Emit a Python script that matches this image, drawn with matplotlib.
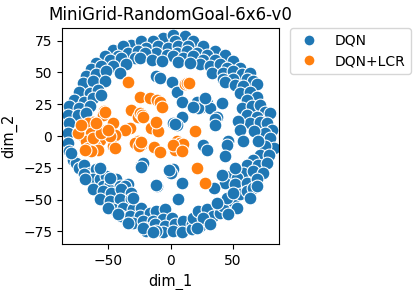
import matplotlib
matplotlib.use("Agg")
import matplotlib.pyplot as plt
from matplotlib.lines import Line2D

title = "MiniGrid-RandomGoal-6x6-v0"
labels = ["DQN", "DQN+LCR"]
colors = ["#1f77b4", "#ff7f0e"]
xticks = [-50, 0, 50]
yticks = [-75, -50, -25, 0, 25, 50, 75]

# DQN: outer ring (top part)
dqn_top = [
    (-5.9, 77.1), (2.1, 79.7), (11.5, 78.4),
    (-31.4, 71.8), (-23.4, 74.4), (-14, 74.4), (3.5, 74.4), (18.2, 74.4),
    (-46.2, 67.9), (-38.1, 70.5), (-19.3, 69.2), (-9.9, 70.5), (-1.9, 69.2), (6.2, 70.5),
    (14.2, 70.5), (26.3, 70.5), (35.6, 66.6),
    (-52.9, 62.7), (-42.1, 62.7), (-34.1, 65.3), (-26, 66.6), (-11.3, 65.3), (-3.2, 64),
    (4.8, 65.3), (12.9, 66.6), (20.9, 65.3), (28.9, 64), (43.7, 64),
    (-59.6, 57.5), (-48.8, 60.1), (-39.5, 61.4), (-28.7, 61.4), (-20.7, 65.3), (2.1, 62.7),
    (10.2, 61.4), (18.2, 62.7), (26.3, 60.1), (35.6, 60.1), (50.4, 58.8),
    (-63.6, 52.3), (-55.6, 54.9), (-46.2, 54.9), (-35.4, 56.2), (-24.7, 61.4), (23.6, 56.2),
    (31.6, 54.9), (39.7, 56.2), (45, 53.6), (55.8, 53.6),
    (-67.6, 47.1), (-59.6, 48.4), (-51.5, 51), (-40.8, 49.7), (33, 49.7), (42.4, 49.7),
    (50.4, 51), (57.1, 48.4), (63.8, 49.7),
    (-70.3, 41.9), (-62.2, 43.2), (-52.9, 43.2), (42.4, 44.5), (50.4, 44.5), (61.1, 44.5),
    (66.5, 43.2), (69.2, 40.6),
    (-15, 60), (-7, 59), (6, 58.5), (16, 57.5),
]
# DQN: outer ring (left part)
dqn_left = [
    (-73, 34.9), (-64.9, 33.6), (-58.2, 36.2), (-77, 28.4), (-69, 27.1), (-62.2, 29.7),
    (-55.5, 32.3), (-81, 23.2), (-73, 21.9), (-64.9, 23.2), (-82.4, 16.6), (-74.3, 16.6),
    (-67.6, 17.9), (-81, 10.1), (-82.4, 2.3), (-82.4, -5.5), (-81, -12), (-78.3, -18.5),
    (-75.6, -21.1), (-73, -25), (-69, -22.4), (-64.9, -28.9), (-59.6, -26.3), (-69, -30.2),
    (-62.2, -34.1), (-56.9, -34.1), (-51.5, -31.5), (-54.2, -39.3), (-48.8, -38),
    (-43.5, -34.1), (-40.8, -39.3), (-34, -38),
    (-56.9, -25), (-48.8, -32.8), (-36.8, -39.4), (-79.7, -13.3), (-68.9, -34.1),
]
# DQN: outer ring (right part)
dqn_right = [
    (43.7, 42.7), (52, 40), (58, 39.5),
    (55.8, 33.6), (63.8, 34.9), (69.2, 31), (61.1, 28.4), (57.1, 21.9), (65.1, 23.2),
    (71.9, 24.5), (75.9, 19.2), (79.9, 17.9), (61.1, 16.6), (69.2, 15.3), (63.8, 10.1),
    (71.9, 11.4), (77.2, 10.1), (81.2, 4.9), (75.9, 2.3), (79.9, -1.6), (82.6, -9.4),
    (75.9, -8.1), (71.9, -14.6), (78.6, -14.6), (66.5, -18.5), (61.1, -22.4), (70.5, -22.4),
    (77.2, -21.1), (58.4, -28.9), (66.5, -27.6), (74.5, -28.9), (47.7, -31.5), (53.1, -32.8),
    (43.7, -36.7), (51.7, -38), (61.1, -36.7), (69.2, -34.1),
    (54, 12), (56, 5), (67, 4), (70, -4), (52, -25), (41, -31), (35, -41),
]
# DQN: outer ring (bottom part)
dqn_bottom = [
    (-62.2, -42), (-54.2, -43.3), (-47.5, -44.6), (-39.4, -42), (-31.4, -44.6),
    (-56.9, -49.8), (-48.8, -51.1), (-40.8, -49.8), (-31.4, -49.8), (-46.1, -57.6),
    (-38.1, -56.3), (-30.1, -57.6), (-23.3, -56.3), (-39.4, -62.8), (-32.7, -62.8),
    (-24.7, -62.8), (-16.7, -60.2), (-11.3, -58.9), (-4.6, -57.6), (-30.1, -68), (-22, -66.7),
    (-14, -66.7), (-5.9, -65.4), (0.8, -64.1), (-20.7, -71.9), (-12.6, -69.3), (-4.6, -70.6),
    (3.5, -69.3), (10.2, -66.7), (16.9, -69.3), (-5.9, -75.8), (2.1, -74.5), (8.8, -75.8),
    (16.9, -73.2), (23.6, -70.6), (18.2, -64.1), (22.2, -58.9), (28.9, -57.6), (34.3, -62.8),
    (26.3, -64.1), (39.7, -60.2), (42.4, -55), (50.4, -51.1), (45, -48.5), (37, -52.4),
    (53.1, -56.3), (46.4, -61.5), (55.8, -45.9), (61.1, -43.3), (66.5, -40.7), (63.8, -48.5),
    (50.4, -44.6), (69.2, -39.4), (31.6, -69.3), (20.9, -71.9), (-11.3, -74.5), (-19.3, -74.5),
    (-30.1, -48.4), (-50.2, -56.3), (-42.2, -61.5), (-34.1, -68), (-22, -71.9), (-14, -75.8),
]
# DQN: points inside the ring
dqn_inner = [
    (-11.3, 47.1), (-8.6, 45.8), (0.8, 42.7), (4.8, 34.8), (8.8, 27),
    (20.9, 27), (24.9, 23.1), (29, 25.8), (31.6, 21.9), (22.2, 21.9), (27.6, 29.7), (18.2, 23.1),
    (41, 25.8), (37, 15.3), (36, 13), (35.6, 8.8), (8.8, 15.3),
    (2.1, 10.2), (4.8, 8.8), (3.5, 9.5),
    (26.2, -6.8), (29, -10.7), (46.4, -4.2), (45, -6.8), (58.4, -4.2), (43.7, -15.9),
    (-23.3, -22.4), (-22, -21), (-24, -24),
    (0.8, -27.7), (2, -26), (0, -29), (-1, -27),
    (8.8, -36.7), (-11, -39.5), (-12, -38.5), (6.2, -49.8),
]

# DQN+LCR
lcr_pts = [
    (-34.4, 42.7), (11.5, 40.6), (13, 42), (15, 41.5),
    (-24.7, 30.9), (-16.7, 29.7), (-11, 28), (-8.6, 27), (-7.2, 23.1),
    (-31.4, 20.5), (-26, 15.3), (-24.7, 18), (-23, 16.5), (-22, 15),
    (-53, 20), (-54.2, 16.6), (-46.2, 10.2), (-32.7, 6.25), (-36.8, 4.9), (-44.8, 1),
    (-15.3, 6.25), (-10, 3.6), (-11.3, 11.4),
    (-26, -4.2), (-23.3, -6.8), (-28.7, -5.5), (-25, -8), (-24, -5),
    (-46.2, -8.1), (-44.8, -9.4), (-13, -9), (-8.6, -12.5),
    (4.8, -4.2), (8.8, -9.4), (3.5, -10.7), (7.5, -5.5), (10, -6), (2, -7), (8.8, -12),
    (19.5, 3.6), (20.9, -25), (27.6, -36.7),
    (-52.9, 19.2), (-62.3, 11.4), (-66.3, 10.2), (-58.2, 6.25), (-71.6, 4.9), (-70.3, -0.3),
    (-63.6, 2.3), (-56.9, -2.9), (-64.9, -5.5), (-60.9, -8.1), (-67.6, -4.2), (-74.3, 2.3),
    (-71.6, 8.8), (-48.8, -0.3), (-58.2, -10.7), (-66.3, -9.4), (-62.3, -1.6), (-55.5, 2.3),
    (-50.2, 4.9), (-63.6, -12), (-68.9, -10.7), (-59.5, 10.2),
]

dqn_pts = dqn_top + dqn_left + dqn_right + dqn_bottom + dqn_inner
dqn_x = [p[0] for p in dqn_pts]
dqn_y = [p[1] for p in dqn_pts]
lcr_x = [p[0] for p in lcr_pts]
lcr_y = [p[1] for p in lcr_pts]

fig = plt.figure(figsize=(4.19, 2.90), dpi=100)
ax = fig.add_axes([0.148, 0.158, 0.518, 0.746])
ax.scatter(dqn_x, dqn_y, s=85, c=colors[0], edgecolors="white", linewidths=0.8, zorder=2)
ax.scatter(lcr_x, lcr_y, s=85, c=colors[1], edgecolors="white", linewidths=0.8, zorder=3)
ax.set_xlim(-87, 87)
ax.set_ylim(-85, 85)
ax.set_xticks(xticks)
ax.set_yticks(yticks)
ax.tick_params(labelsize=10)
ax.set_xlabel("dim_1", fontsize=10.5)
ax.set_ylabel("dim_2", fontsize=10.5)
ax.set_title(title, fontsize=12)

handles = [Line2D([], [], marker="o", linestyle="", markersize=8,
                  markerfacecolor=c, markeredgecolor="white") for c in colors]
ax.legend(handles, labels, loc="upper left", bbox_to_anchor=(1.05, 1),
          borderaxespad=0, fontsize=10)
fig.savefig("out.png", dpi=100)
